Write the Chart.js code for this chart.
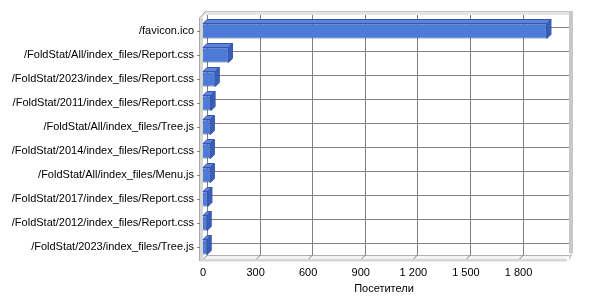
<!DOCTYPE html>
<html>
<head>
<meta charset="utf-8">
<script src="https://cdn.jsdelivr.net/npm/chart.js@4/dist/chart.umd.min.js"></script>
<style>
html,body{margin:0;padding:0;background:#fff;}
#c{display:block;}
</style>
</head>
<body>
<canvas id="c" width="600" height="300"></canvas>
<script>
const categories = [
  '/favicon.ico',
  '/FoldStat/All/index_files/Report.css',
  '/FoldStat/2023/index_files/Report.css',
  '/FoldStat/2011/index_files/Report.css',
  '/FoldStat/All/index_files/Tree.js',
  '/FoldStat/2014/index_files/Report.css',
  '/FoldStat/All/index_files/Menu.js',
  '/FoldStat/2017/index_files/Report.css',
  '/FoldStat/2012/index_files/Report.css',
  '/FoldStat/2023/index_files/Tree.js'
];
const visitors = [1962, 145, 70, 46, 42, 42, 42, 28, 24, 24];
const tickValues = [0, 300, 600, 900, 1200, 1500, 1800];
const axisTitle = 'Посетители';

const DX = 4, DY = 4;
const FONT = 'Liberation Sans, Arial, sans-serif';

const threeD = {
  id: 'threeD',
  beforeDatasetsDraw(chart) {
    const ctx = chart.ctx;
    const a = chart.chartArea;
    const xs = chart.scales.x, ys = chart.scales.y;
    const L = a.left, R = a.right, T = a.top, B = a.bottom;
    ctx.save();
    // top plate of back wall
    ctx.fillStyle = '#e4e4e4';
    ctx.fillRect(L + DX - 2, T - DY - 3, R - L + 2, 3);
    ctx.strokeStyle = '#c8c8c8';
    ctx.lineWidth = 1;
    ctx.beginPath();
    ctx.moveTo(L + DX - 2, T - DY - 3.5); ctx.lineTo(R + DX + 4, T - DY - 3.5);
    ctx.stroke();
    // right plate
    ctx.fillStyle = '#c8c8c8';
    ctx.fillRect(R + DX, T - DY - 3, 4, B - T + 1);
    ctx.beginPath();
    ctx.moveTo(R + DX + 4, B - DY - 2);
    ctx.lineTo(R + DX, B + 2);
    ctx.lineTo(R + DX, B - DY);
    ctx.closePath();
    ctx.fill();
    // floor
    ctx.fillStyle = '#f4f4f4';
    ctx.beginPath();
    ctx.moveTo(L, B); ctx.lineTo(L + DX, B - DY); ctx.lineTo(R + DX, B - DY); ctx.lineTo(R, B);
    ctx.closePath(); ctx.fill();
    ctx.fillStyle = '#d6d6d6';
    ctx.fillRect(L - 3, B, R - L + 5, 2.5);
    ctx.strokeStyle = '#b0b0b0';
    ctx.beginPath();
    ctx.moveTo(L + DX, B - DY + 0.5); ctx.lineTo(R + DX, B - DY + 0.5);
    ctx.stroke();
    // grid lines
    ctx.strokeStyle = '#808080';
    ctx.lineWidth = 1;
    tickValues.forEach(v => {
      const x = Math.round(xs.getPixelForValue(v) + DX) + 0.5;
      ctx.beginPath();
      ctx.moveTo(x, T - DY);
      ctx.lineTo(x, B - DY);
      ctx.lineTo(x - DX, B);
      ctx.stroke();
    });
    categories.forEach((c, i) => {
      const y = Math.round(ys.getPixelForValue(i) - DY) + 0.5;
      ctx.beginPath();
      ctx.moveTo(L + DX, y);
      ctx.lineTo(R + DX, y);
      ctx.stroke();
    });
    // left wall
    ctx.fillStyle = '#d6d6d6';
    ctx.fillRect(L - 3, T - 1, 3, B - T + 3);
    ctx.fillStyle = '#e8e8e8';
    ctx.beginPath();
    ctx.moveTo(L - 3, T - 1); ctx.lineTo(L - 3 + DX, T - 1 - DY - 3); ctx.lineTo(L + DX, T - 1 - DY - 3); ctx.lineTo(L, T - 1);
    ctx.closePath(); ctx.fill();
    ctx.strokeStyle = '#a8a8a8';
    ctx.beginPath();
    ctx.moveTo(L - 3.5, B + 2); ctx.lineTo(L - 3.5, T - 1); ctx.lineTo(L - 0.5 + DX, T - DY - 4.5);
    ctx.stroke();
    // category tick marks
    ctx.strokeStyle = '#808080';
    categories.forEach((c, i) => {
      const y = Math.round(ys.getPixelForValue(i)) + 0.5;
      ctx.beginPath();
      ctx.moveTo(L - 6, y); ctx.lineTo(L - 3, y);
      ctx.stroke();
    });
    ctx.restore();
  },
  afterDatasetsDraw(chart) {
    const ctx = chart.ctx;
    const meta = chart.getDatasetMeta(0);
    ctx.save();
    ctx.lineWidth = 1;
    meta.data.forEach(bar => {
      const p = bar.getProps(['x', 'y', 'base', 'height'], true);
      const x0 = p.base, x1 = p.x, yt = p.y - p.height / 2, yb = p.y + p.height / 2;
      // top face
      ctx.fillStyle = '#5b86dc';
      ctx.strokeStyle = '#3152a6';
      ctx.beginPath();
      ctx.moveTo(x0, yt); ctx.lineTo(x0 + DX, yt - DY); ctx.lineTo(x1 + DX, yt - DY); ctx.lineTo(x1, yt);
      ctx.closePath(); ctx.fill(); ctx.stroke();
      // side face
      ctx.fillStyle = '#3a5fb8';
      ctx.beginPath();
      ctx.moveTo(x1, yt); ctx.lineTo(x1 + DX, yt - DY); ctx.lineTo(x1 + DX, yb - DY); ctx.lineTo(x1, yb);
      ctx.closePath(); ctx.fill(); ctx.stroke();
    });
    ctx.restore();
  }
};

new Chart(document.getElementById('c'), {
  type: 'bar',
  data: {
    labels: categories,
    datasets: [{
      data: visitors,
      backgroundColor: '#4e7ad8',
      borderColor: '#3152a6',
      borderWidth: 1,
      barPercentage: 0.62,
      categoryPercentage: 1
    }]
  },
  options: {
    indexAxis: 'y',
    responsive: false,
    animation: false,
    layout: { padding: { top: 19, right: 35, left: 0, bottom: 0 } },
    plugins: { legend: { display: false }, tooltip: { enabled: false } },
    scales: {
      y: {
        grid: { display: false, drawTicks: false },
        border: { display: false },
        ticks: { color: '#000', font: { family: FONT, size: 11 }, padding: 9, autoSkip: false },
        afterFit(s) { s.width = 203; }
      },
      x: {
        min: 0,
        max: 2065,
        grid: { display: false, drawTicks: false },
        border: { display: false },
        afterBuildTicks(s) { s.ticks = tickValues.map(v => ({ value: v })); },
        ticks: {
          color: '#000',
          font: { family: FONT, size: 11 },
          padding: 7,
          maxRotation: 0,
          callback(v) { return v.toLocaleString('ru-RU').replace(/\s/g, ' '); }
        },
        title: { display: true, text: axisTitle, color: '#000', font: { family: FONT, size: 11 }, padding: { top: 4, bottom: 4 } },
        afterFit(s) { s.height = 41; }
      }
    }
  },
  plugins: [threeD]
});
</script>
</body>
</html>
